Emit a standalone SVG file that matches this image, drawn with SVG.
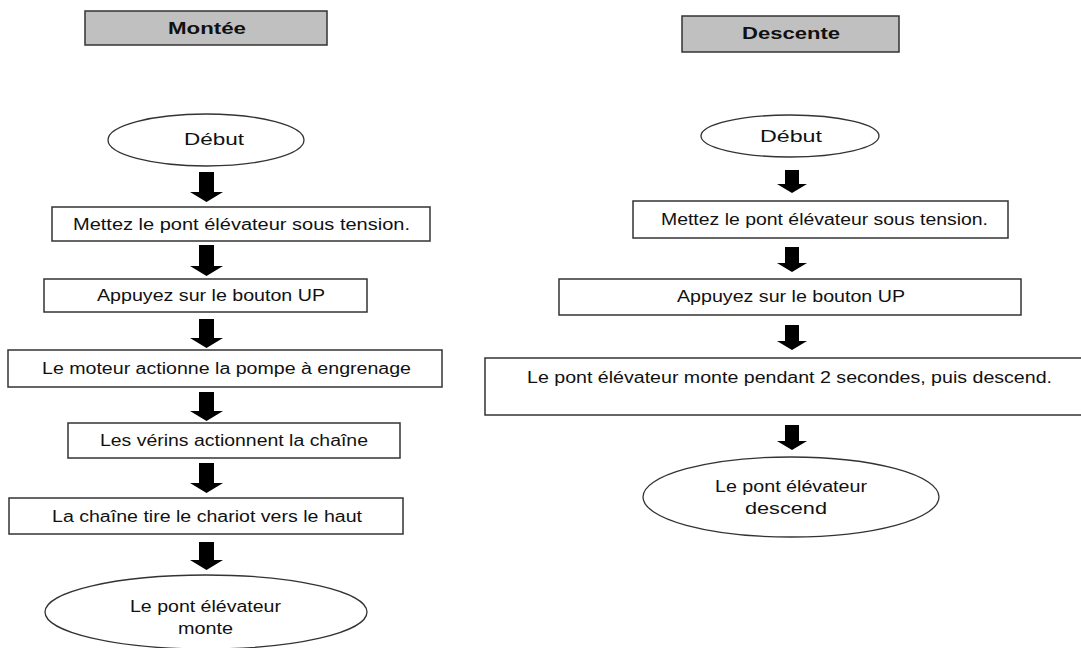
<svg xmlns="http://www.w3.org/2000/svg" width="1081" height="648" viewBox="0 0 1081 648">
<style>
.box{fill:#fff;stroke:#333;stroke-width:1.5}
.hdr{fill:#c0c0c0;stroke:#333;stroke-width:1.5}
.ell{fill:#fff;stroke:#333;stroke-width:1.3}
.t{font-family:"Liberation Sans",Arial,sans-serif;font-size:16px;fill:#111;text-anchor:middle}
.b{font-weight:bold;font-size:17px}
.arr{fill:#000}
</style>
<rect width="1081" height="648" fill="#fff"/>
<g id="connectors">
<polygon class="arr" points="199,172 214,172 214,192 223,192 206.5,202 190,192 199,192"/>
<polygon class="arr" points="199,245 214,245 214,266 223,266 206.5,276 190,266 199,266"/>
<polygon class="arr" points="199,319 214,319 214,338 223,338 206.5,348 190,338 199,338"/>
<polygon class="arr" points="199,392 214,392 214,411 223,411 206.5,421 190,411 199,411"/>
<polygon class="arr" points="199,463 214,463 214,483 223,483 206.5,493 190,483 199,483"/>
<polygon class="arr" points="199,542 214,542 214,560 223,560 206.5,570 190,560 199,560"/>
<polygon class="arr" points="785,170 799,170 799,184 807,184 792,193 777,184 785,184"/>
<polygon class="arr" points="785,247 799,247 799,263 807,263 792,272 777,263 785,263"/>
<polygon class="arr" points="785,325 799,325 799,341 807,341 792,350 777,341 785,341"/>
<polygon class="arr" points="785,425 799,425 799,441 807,441 792,450 777,441 785,441"/>
</g>
<g id="hdr-montee">
<rect class="hdr" x="85" y="11" width="242" height="34"/>
<text class="t b" x="207" y="34" textLength="78" lengthAdjust="spacingAndGlyphs">Montée</text>
</g>
<g id="l-debut">
<ellipse class="ell" cx="206" cy="140" rx="98" ry="26"/>
<text class="t" x="214" y="145" textLength="60" lengthAdjust="spacingAndGlyphs">Début</text>
</g>
<g id="l-step1">
<rect class="box" x="52" y="207" width="378" height="34"/>
<text class="t" x="241.5" y="230" textLength="337" lengthAdjust="spacingAndGlyphs">Mettez le pont élévateur sous tension.</text>
</g>
<g id="l-step2">
<rect class="box" x="44" y="279" width="323" height="33"/>
<text class="t" x="211" y="301" textLength="228" lengthAdjust="spacingAndGlyphs">Appuyez sur le bouton UP</text>
</g>
<g id="l-step3">
<rect class="box" x="8" y="350" width="434" height="37"/>
<text class="t" x="226.5" y="374" textLength="369" lengthAdjust="spacingAndGlyphs">Le moteur actionne la pompe à engrenage</text>
</g>
<g id="l-step4">
<rect class="box" x="68" y="423" width="332" height="35"/>
<text class="t" x="234" y="446" textLength="268" lengthAdjust="spacingAndGlyphs">Les vérins actionnent la chaîne</text>
</g>
<g id="l-step5">
<rect class="box" x="9" y="498" width="394" height="36"/>
<text class="t" x="207" y="522" textLength="310" lengthAdjust="spacingAndGlyphs">La chaîne tire le chariot vers le haut</text>
</g>
<g id="l-end">
<ellipse class="ell" cx="206" cy="612" rx="161" ry="37"/>
<text class="t" x="205.5" y="612" textLength="151" lengthAdjust="spacingAndGlyphs">Le pont élévateur</text>
<text class="t" x="205.5" y="634" textLength="55" lengthAdjust="spacingAndGlyphs">monte</text>
</g>
<g id="hdr-descente">
<rect class="hdr" x="682" y="16" width="217" height="36"/>
<text class="t b" x="791" y="39" textLength="98" lengthAdjust="spacingAndGlyphs">Descente</text>
</g>
<g id="r-debut">
<ellipse class="ell" cx="790" cy="136" rx="89" ry="21"/>
<text class="t" x="791" y="142" textLength="62" lengthAdjust="spacingAndGlyphs">Début</text>
</g>
<g id="r-step1">
<rect class="box" x="633" y="201" width="375" height="37"/>
<text class="t" x="824.5" y="225" textLength="327" lengthAdjust="spacingAndGlyphs">Mettez le pont élévateur sous tension.</text>
</g>
<g id="r-step2">
<rect class="box" x="559" y="279" width="462" height="36"/>
<text class="t" x="791" y="302" textLength="228" lengthAdjust="spacingAndGlyphs">Appuyez sur le bouton UP</text>
</g>
<g id="r-step3">
<rect class="box" x="485" y="358" width="610" height="57"/>
<text class="t" x="789.5" y="383" textLength="525" lengthAdjust="spacingAndGlyphs">Le pont élévateur monte pendant 2 secondes, puis descend.</text>
</g>
<g id="r-end">
<ellipse class="ell" cx="791" cy="497" rx="148" ry="40"/>
<text class="t" x="791" y="492" textLength="152" lengthAdjust="spacingAndGlyphs">Le pont élévateur</text>
<text class="t" x="786" y="514" textLength="82" lengthAdjust="spacingAndGlyphs">descend</text>
</g>
</svg>
